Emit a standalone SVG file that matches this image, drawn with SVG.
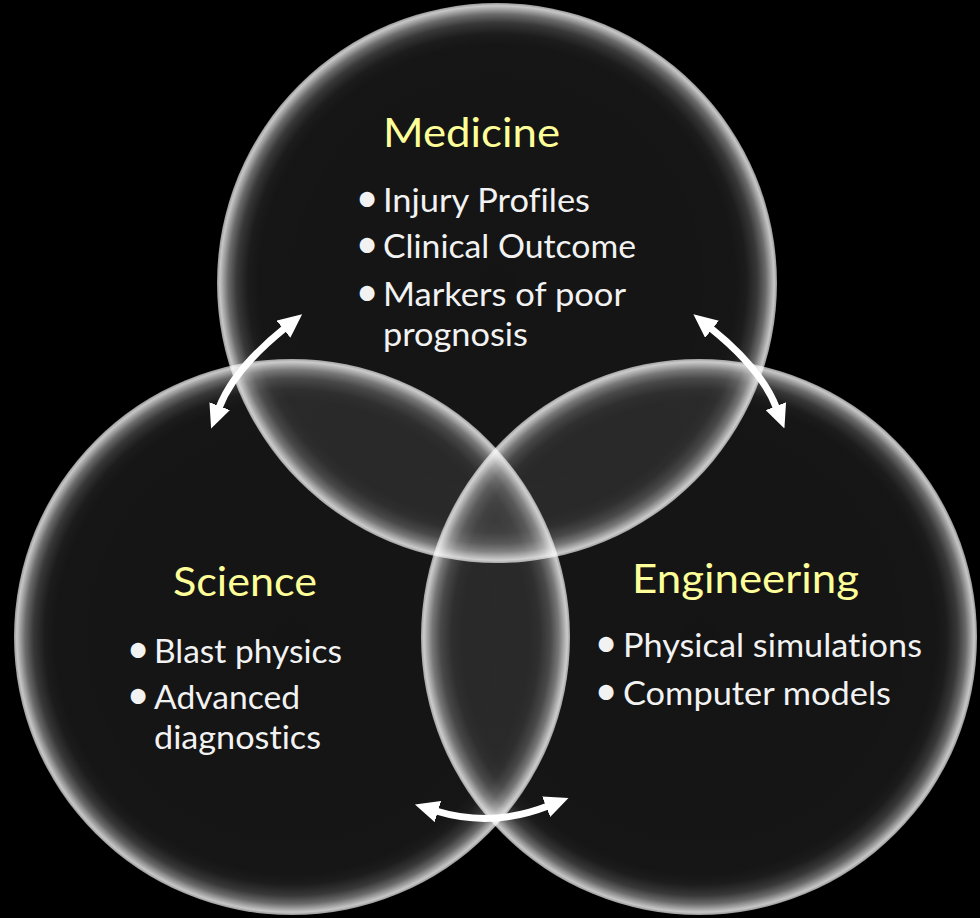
<svg xmlns="http://www.w3.org/2000/svg" width="980" height="918" viewBox="0 0 980 918">
  <defs>
    <radialGradient id="glow" cx="0.5" cy="0.5" r="0.5">
      <stop offset="0" stop-color="#ffffff" stop-opacity="0.08"/>
      <stop offset="0.85" stop-color="#ffffff" stop-opacity="0.085"/>
      <stop offset="0.89" stop-color="#ffffff" stop-opacity="0.11"/>
      <stop offset="0.93" stop-color="#ffffff" stop-opacity="0.22"/>
      <stop offset="0.96" stop-color="#ffffff" stop-opacity="0.42"/>
      <stop offset="0.975" stop-color="#ffffff" stop-opacity="0.6"/>
      <stop offset="0.99" stop-color="#ffffff" stop-opacity="0.78"/>
      <stop offset="1" stop-color="#ffffff" stop-opacity="0.6"/>
    </radialGradient>
    <marker id="head" markerUnits="userSpaceOnUse" markerWidth="24" markerHeight="22" viewBox="0 0 24 22" refX="2" refY="11" orient="auto-start-reverse">
      <path d="M0,0 L24,11 L0,22 Z" fill="#ffffff"/>
    </marker>
  </defs>
  <style>
    text { font-family: Lato, "Liberation Sans", sans-serif; font-variant-ligatures: none; font-feature-settings: "liga" 0; }
    .title { font-size: 40px; fill: #FFFF99; }
    .item { font-size: 33px; fill: #F2F2F2; }
    .b { font-size: 40px; text-anchor: middle; }
    .t { text-anchor: start; }
    .ring { fill: url(#glow); }
    .conn { fill: none; stroke: #ffffff; stroke-width: 7; marker-start: url(#head); marker-end: url(#head); }
  </style>
  <rect x="0" y="0" width="980" height="918" fill="#000000"/>

  <g id="medicine">
    <circle class="ring" cx="497" cy="283" r="280"/>
    <text class="title" x="383" y="147" textLength="177" lengthAdjust="spacingAndGlyphs">Medicine</text>
    <text class="item" y="212"><tspan class="b" x="367">•</tspan><tspan class="t" x="383" textLength="207" lengthAdjust="spacingAndGlyphs">Injury Profiles</tspan></text>
    <text class="item" y="258"><tspan class="b" x="367">•</tspan><tspan class="t" x="383" textLength="253" lengthAdjust="spacingAndGlyphs">Clinical Outcome</tspan></text>
    <text class="item" y="306"><tspan class="b" x="367">•</tspan><tspan class="t" x="383" textLength="243" lengthAdjust="spacingAndGlyphs">Markers of poor</tspan></text>
    <text class="item" x="383" y="346" textLength="145" lengthAdjust="spacingAndGlyphs">prognosis</text>
  </g>

  <g id="science">
    <circle class="ring" cx="292" cy="637" r="278"/>
    <text class="title" x="173" y="596" textLength="144" lengthAdjust="spacingAndGlyphs">Science</text>
    <text class="item" y="663"><tspan class="b" x="138">•</tspan><tspan class="t" x="154" textLength="188" lengthAdjust="spacingAndGlyphs">Blast physics</tspan></text>
    <text class="item" y="709"><tspan class="b" x="138">•</tspan><tspan class="t" x="154" textLength="146" lengthAdjust="spacingAndGlyphs">Advanced</tspan></text>
    <text class="item" x="154" y="749" textLength="167" lengthAdjust="spacingAndGlyphs">diagnostics</text>
  </g>

  <g id="engineering">
    <circle class="ring" cx="699" cy="637" r="278"/>
    <text class="title" x="632" y="593" textLength="227" lengthAdjust="spacingAndGlyphs">Engineering</text>
    <text class="item" y="657"><tspan class="b" x="606">•</tspan><tspan class="t" x="623" textLength="299" lengthAdjust="spacingAndGlyphs">Physical simulations</tspan></text>
    <text class="item" y="705"><tspan class="b" x="606">•</tspan><tspan class="t" x="623" textLength="268" lengthAdjust="spacingAndGlyphs">Computer models</tspan></text>
  </g>

  <g id="connectors">
    <path class="conn" d="M219,408 Q234,369 285,328"/>
    <path class="conn" d="M776.5,408 Q761.5,369 710.5,328"/>
    <path class="conn" d="M436,811 Q492,828 548,806"/>
  </g>
</svg>
